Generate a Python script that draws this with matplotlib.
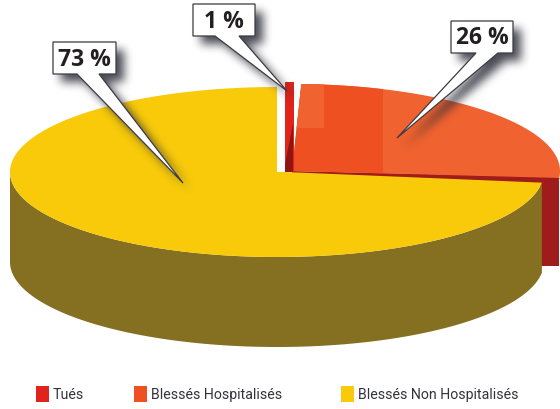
import numpy as np
import matplotlib
matplotlib.use("Agg")
import matplotlib.pyplot as plt
from matplotlib.path import Path

# valeurs
labels = ["Tués", "Blessés Hospitalisés", "Blessés Non Hospitalisés"]
shares = [1, 26, 73]
pct_text = ["1 %", "26 %", "73 %"]

top_colors = ["#E0231B", "#F0622F", "#F8CA0A"]
side_colors = ["#8E1512", "#A01C1A", "#857022"]

RX, RY, DEPTH = 267, 85, 90
START = 90.0
W, H = 560, 410


def arc(cx, cy, a0, a1, rx=RX, ry=RY, n=200):
    t = np.radians(np.linspace(a0, a1, n))
    return cx + rx * np.cos(t), cy - ry * np.sin(t)


def blur(a, r, passes=3):
    # flou simple : moyenne glissante répétée
    kernel = np.ones(2 * r + 1) / (2 * r + 1)
    for _ in range(passes):
        a = np.apply_along_axis(lambda v: np.convolve(v, kernel, mode="same"), 0, a)
        a = np.apply_along_axis(lambda v: np.convolve(v, kernel, mode="same"), 1, a)
    return a


def shadow(ax, xs, ys, dx, dy, zorder):
    gx, gy = np.meshgrid(np.arange(W) + 0.5, np.arange(H) + 0.5)
    pts = np.c_[gx.ravel(), gy.ravel()]
    inside = Path(np.c_[np.array(xs) + dx, np.array(ys) + dy]).contains_points(pts)
    alpha = blur(inside.reshape(H, W).astype(float), 4) * 0.85
    rgba = np.zeros((H, W, 4))
    rgba[..., :3] = (0.17, 0.17, 0.22)
    rgba[..., 3] = alpha
    ax.imshow(rgba, extent=(0, W, H, 0), aspect="auto", interpolation="bilinear", zorder=zorder)


def callout(ax, box, base, tip, text):
    x0, y0, x1, y1 = box
    xs = [x0, base[0], tip[0], base[1], x1, x1, x0]
    ys = [y1, y1, tip[1], y1, y1, y0, y0]
    shadow(ax, xs, ys, 8, 8, 7)
    ax.fill(xs, ys, facecolor="white", edgecolor="#3c3c42", lw=0.9, zorder=8)
    ax.text((x0 + x1) / 2, (y0 + y1) / 2 + 0.5, text, ha="center", va="center", fontsize=16.5,
            fontweight="bold", color="#231f20", family=["Open Sans", "DejaVu Sans"], zorder=9)


# angles de chaque part, sens horaire depuis le haut
orange_end = START - (shares[0] + shares[1]) * 3.6
yellow_a0 = orange_end
yellow_a1 = yellow_a0 - shares[2] * 3.6

fig = plt.figure(figsize=(5.6, 4.1), dpi=100)
ax = fig.add_axes([0, 0, 1, 1])
ax.axis("off")

# part orange
ocx, ocy = 292, 172
ax_, ay_ = arc(ocx, ocy, orange_end, START - 2, rx=268, ry=87)
ax.fill([540, 559, 559, 540], [176, 176, 267, 267], color=side_colors[1], lw=0, zorder=2)
ax.fill([292, 559, 559, 292], [172, 178, 186, 176], color=side_colors[1], lw=0, zorder=2.5)
ora = ax.fill(np.r_[ocx, 560, ax_], np.r_[ocy, 179, ay_], color=top_colors[1], lw=0, zorder=3)[0]
# bandes de teinte de l'orange
dark = ax.fill([290, 383, 383, 290], [80, 80, 178, 178], color="#EE5022", lw=0, zorder=3.1)[0]
dark.set_clip_path(ora)
pale = ax.fill([290, 324, 324, 290], [80, 80, 129, 129], color="#F0622F", lw=0, zorder=3.2)[0]
pale.set_clip_path(ora)

# part rouge
ax.fill([285, 294, 294, 285], [173, 173, 83, 83], color=top_colors[0], lw=0, zorder=4)
ax.fill([285, 293, 293, 285], [173, 173, 125, 165], color=side_colors[0], lw=0, zorder=4.1)

# part jaune : flanc puis dessus
ycx, ycy = 277, 173
sx, sy = arc(ycx, ycy, 180, 360 + yellow_a0, n=300)
ax.fill(np.r_[sx, sx[::-1]], np.r_[sy, sy[::-1] + DEPTH], color=side_colors[2], lw=0, zorder=5)
tx, ty = arc(ycx, ycy, yellow_a0, yellow_a1, n=400)
ax.fill(np.r_[ycx + 8, tx, ycx, ycx], np.r_[ycy, ty, ty[-1], ycy], color=top_colors[2], lw=0, zorder=6)

# étiquettes
callout(ax, (193, 5, 255, 37), (215, 239), (287, 92), pct_text[0])
callout(ax, (451, 22, 513, 54), (476, 498), (397, 139), pct_text[1])
callout(ax, (53, 43, 116, 75), (77, 99), (183, 184), pct_text[2])

# légende
leg_x = [36, 134, 341]
leg_colors = [top_colors[0], "#EE5022", top_colors[2]]
for x, lab, c in zip(leg_x, labels, leg_colors):
    ax.fill([x, x + 13, x + 13, x], [387, 387, 403, 403], color=c, lw=0)
    ax.text(x + 17, 395, lab, va="center", ha="left", fontsize=10.2, color="#33333c",
            family="Roboto")

ax.set_xlim(0, W)
ax.set_ylim(H, 0)
fig.savefig("out.png", dpi=100)
